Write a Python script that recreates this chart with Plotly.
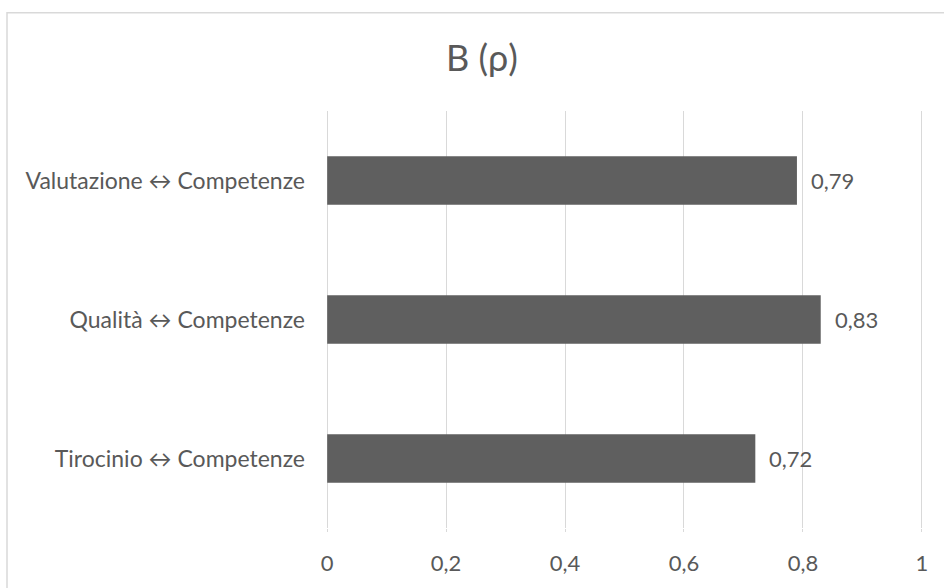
import plotly.graph_objects as go

categories = ["Valutazione ↔ Competenze", "Qualità ↔ Competenze", "Tirocinio ↔ Competenze"]
values = [0.79, 0.83, 0.72]
tick_vals = [0, 0.2, 0.4, 0.6, 0.8, 1]
tick_text = ["0", "0,2", "0,4", "0,6", "0,8", "1"]

FONT = "Lato"
TXT = "#595959"
GRID = "#d9d9d9"

fig = go.Figure()
fig.add_trace(go.Bar(
    x=values, y=categories, orientation="h",
    marker=dict(color="#5f5f5f", line=dict(width=0)),
    hoverinfo="skip",
))

for c, v in zip(categories, values):
    fig.add_annotation(
        x=v, y=c, xref="x", yref="y",
        text=f"{v:.2f}".replace(".", ","),
        showarrow=False, xanchor="left", xshift=12,
        font=dict(family=FONT, size=22, color=TXT),
    )

fig.update_layout(
    width=944, height=588,
    margin=dict(l=326, r=21, t=111, b=57),
    paper_bgcolor="white", plot_bgcolor="white",
    separators=",.",
    bargap=0.65,
    showlegend=False,
    title=dict(text="B (ρ)", x=482 / 944, xref="container", xanchor="center",
               y=1 - 58 / 588, yref="container", yanchor="middle",
               font=dict(family=FONT, size=36, color=TXT)),
    xaxis=dict(range=[-0.002, 1.002], tickvals=tick_vals, ticktext=tick_text,
               showgrid=True, gridcolor=GRID, gridwidth=1,
               zeroline=True, zerolinecolor=GRID, zerolinewidth=1,
               showline=False, ticks="outside",
               ticklen=3, tickcolor=GRID, tickwidth=1,
               ticklabelstandoff=13,
               tickfont=dict(family=FONT, size=22, color=TXT),
               fixedrange=True),
    yaxis=dict(autorange="reversed", showgrid=False, zeroline=False,
               showline=False, ticks="", ticklabelstandoff=20,
               tickfont=dict(family=FONT, size=23, color=TXT),
               fixedrange=True),
    shapes=[dict(type="rect", xref="paper", yref="paper",
                 x0=(7 - 326) / 597, x1=1.2, y0=-0.4, y1=(531 - 12) / 420,
                 line=dict(color=GRID, width=1.5), layer="below")],
)

fig.write_html("out.html", config={"displayModeBar": False},
               post_script="document.body.style.margin='0';document.body.style.padding='0';")
